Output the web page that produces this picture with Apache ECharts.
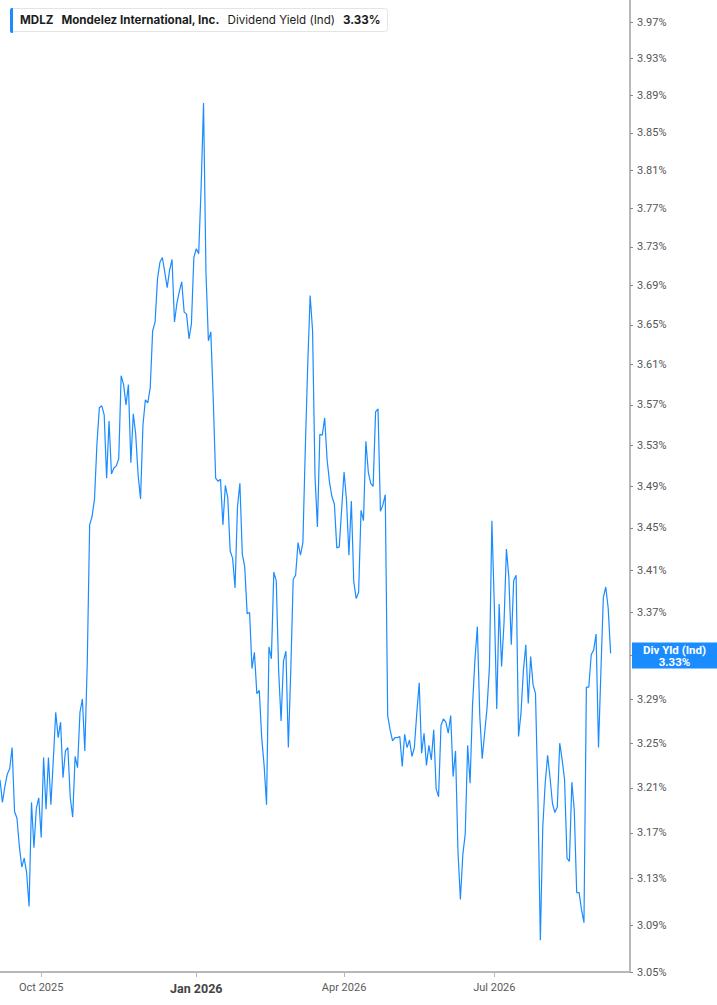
<!DOCTYPE html>
<html><head><meta charset="utf-8">
<script src="https://cdn.jsdelivr.net/npm/echarts@6/dist/echarts.min.js"></script>
<style>html,body{margin:0;padding:0;background:#fff}#c{width:717px;height:1005px}</style>
</head><body><div id="c"></div>
<script>
const ticker = 'MDLZ';
const company = 'Mondelez International, Inc.';
const metric = 'Dividend Yield (Ind)';
const metricShort = 'Div Yld (Ind)';
const firstDate = '2025-09-08';
const marketHolidays = ['2025-11-27','2025-12-25','2026-01-01','2026-01-19','2026-02-16',
  '2026-04-03','2026-05-25','2026-06-19','2026-07-03','2026-09-07'];
const trailingSlots = 8;
const quarterMonths = [0, 3, 6, 9];
const monthNames = ['Jan','Feb','Mar','Apr','May','Jun','Jul','Aug','Sep','Oct','Nov','Dec'];
const yTicks = [3.05,3.09,3.13,3.17,3.21,3.25,3.29,3.33,3.37,3.41,3.45,3.49,3.53,3.57,3.61,3.65,3.69,3.73,3.77,3.81,3.85,3.89,3.93,3.97];
const yRange = [3.05, 3.9945];
const yieldValues = [
3.217,3.197,3.211,3.222,3.227,3.246,3.189,3.183,3.158,3.140,
3.148,3.135,3.106,3.197,3.157,3.192,3.201,3.166,3.237,3.191,
3.237,3.195,3.235,3.278,3.255,3.269,3.219,3.243,3.246,3.201,
3.184,3.238,3.228,3.278,3.290,3.243,3.322,3.453,3.461,3.478,
3.531,3.567,3.569,3.560,3.498,3.554,3.502,3.508,3.510,3.517,
3.599,3.590,3.570,3.590,3.513,3.561,3.541,3.501,3.478,3.550,
3.575,3.572,3.587,3.644,3.653,3.697,3.714,3.719,3.704,3.688,
3.706,3.717,3.653,3.672,3.684,3.694,3.663,3.661,3.636,3.651,
3.719,3.728,3.723,3.792,3.882,3.704,3.634,3.643,3.576,3.498,
3.495,3.497,3.453,3.491,3.479,3.428,3.421,3.393,3.470,3.493,
3.425,3.413,3.369,3.370,3.318,3.333,3.295,3.298,3.255,3.230,
3.195,3.338,3.327,3.408,3.400,3.316,3.270,3.325,3.334,3.246,
3.316,3.401,3.405,3.436,3.424,3.436,3.527,3.610,3.680,3.644,
3.500,3.451,3.541,3.540,3.557,3.516,3.494,3.480,3.473,3.431,
3.432,3.468,3.504,3.477,3.424,3.476,3.399,3.383,3.389,3.467,
3.457,3.534,3.504,3.493,3.490,3.563,3.566,3.466,3.472,3.482,
3.275,3.262,3.252,3.255,3.255,3.256,3.229,3.258,3.246,3.253,
3.238,3.246,3.277,3.305,3.241,3.259,3.230,3.248,3.235,3.262,
3.209,3.202,3.266,3.272,3.269,3.259,3.275,3.220,3.243,3.154,
3.112,3.151,3.169,3.248,3.214,3.284,3.326,3.357,3.275,3.236,
3.259,3.282,3.320,3.457,3.377,3.281,3.378,3.320,3.360,3.430,
3.403,3.340,3.400,3.405,3.256,3.277,3.316,3.340,3.286,3.329,
3.303,3.295,3.202,3.077,3.175,3.214,3.239,3.219,3.196,3.188,
3.193,3.250,3.235,3.217,3.148,3.145,3.215,3.190,3.118,3.118,
3.103,3.092,3.301,3.301,3.331,3.335,3.350,3.246,3.316,3.384,
3.394,3.374,3.332
];

// build trading-day categories
const holidaySet = new Set(marketHolidays);
const dates = [];
{
  const p = firstDate.split('-').map(Number);
  let t = Date.UTC(p[0], p[1] - 1, p[2]);
  const need = yieldValues.length + trailingSlots;
  while (dates.length < need) {
    const d = new Date(t);
    const s = d.toISOString().slice(0, 10);
    const wd = d.getUTCDay();
    if (wd !== 0 && wd !== 6 && !holidaySet.has(s)) dates.push(s);
    t += 86400000;
  }
}
const labelIdx = new Set();
for (let i = 0; i < dates.length; i++) {
  const m = +dates[i].slice(5, 7) - 1;
  const pm = i > 0 ? +dates[i - 1].slice(5, 7) - 1 : -1;
  if (i > 0 && m !== pm && quarterMonths.includes(m)) labelIdx.add(i);
}
const lastVal = yieldValues[yieldValues.length - 1];
const lastLabel = lastVal.toFixed(2) + '%';
// the tick label under the current-value badge is hidden by the badge
const yLabelTicks = yTicks.filter(v => Math.abs(v - lastVal) > 0.01);
const lineColor = '#1a8cff';

const chart = echarts.init(document.getElementById('c'), null, {renderer: 'svg'});
chart.setOption({
  animation: false,
  backgroundColor: '#fff',
  textStyle: {fontFamily: 'Roboto, Inter, sans-serif'},
  title: {
    left: 10, top: 8,
    padding: [6, 7, 6, 10],
    backgroundColor: '#fff',
    borderColor: '#e4e4e4', borderWidth: 1, borderRadius: 3,
    text: '{t|' + ticker + '}{n|' + company + '}{m|' + metric + '}{v|' + lastLabel + '}',
    textStyle: {
      rich: {
        t: {fontFamily: 'Inter', fontWeight: 'bold', fontSize: 11.6, color: '#1d1d1d', padding: [0, 8, 0, 0]},
        n: {fontFamily: 'Inter', fontWeight: 'bold', fontSize: 11.6, color: '#1d1d1d', padding: [0, 8, 0, 0]},
        m: {fontFamily: 'Inter', fontWeight: 'normal', fontSize: 11.6, color: '#1d1d1d', padding: [0, 8, 0, 0]},
        v: {fontFamily: 'Inter', fontWeight: 'bold', fontSize: 11.6, color: '#1d1d1d'}
      }
    }
  },
  graphic: [{
    type: 'rect', left: 10, top: 8, z: 100,
    shape: {width: 3, height: 25, r: [2, 0, 0, 2]},
    style: {fill: lineColor}
  }],
  grid: {left: 0, right: 87, top: 0, bottom: 33, containLabel: false},
  xAxis: {
    type: 'category',
    data: dates,
    boundaryGap: false,
    axisLine: {lineStyle: {color: '#b8b8b8', width: 2}},
    axisTick: {show: true, interval: (i) => labelIdx.has(i), length: 5, lineStyle: {color: '#b8b8b8'}},
    axisLabel: {
      interval: (i) => labelIdx.has(i),
      margin: 10,
      color: '#5a5a5a', fontSize: 11,
      formatter: (v) => {
        const m = +v.slice(5, 7) - 1;
        const s = monthNames[m] + ' ' + v.slice(0, 4);
        return m === 0 ? '{b|' + s + '}' : s;
      },
      rich: {b: {fontWeight: 'bold', fontSize: 12.5, color: '#444'}}
    },
    splitLine: {show: false}
  },
  yAxis: {
    type: 'log',
    logBase: 10,
    position: 'right',
    min: yRange[0], max: yRange[1],
    axisLine: {show: true, lineStyle: {color: '#b8b8b8', width: 2}},
    axisTick: {show: true, length: 3, customValues: yTicks, lineStyle: {color: '#888'}},
    axisLabel: {
      customValues: yLabelTicks,
      margin: 7,
      color: '#555', fontSize: 11,
      formatter: (v) => Number(v).toFixed(2) + '%'
    },
    splitLine: {show: false}
  },
  series: [{
    type: 'line',
    data: yieldValues,
    showSymbol: false,
    lineStyle: {color: lineColor, width: 1.2},
    itemStyle: {color: lineColor},
    markLine: {
      silent: true,
      symbol: 'none',
      lineStyle: {color: 'rgba(0,0,0,0)', width: 0, type: 'solid'},
      data: [{yAxis: lastVal}],
      label: {
        show: true,
        position: 'end',
        distance: 2,
        formatter: '{a|' + metricShort + '}\n{a|' + lastLabel + '}',
        backgroundColor: lineColor,
        padding: [1, 10, 1, 10],
        rich: {
          a: {color: '#fff', fontWeight: 'bold', fontSize: 11.5, lineHeight: 12, width: 65, align: 'center'}
        }
      }
    }
  }]
});
</script>
</body></html>
